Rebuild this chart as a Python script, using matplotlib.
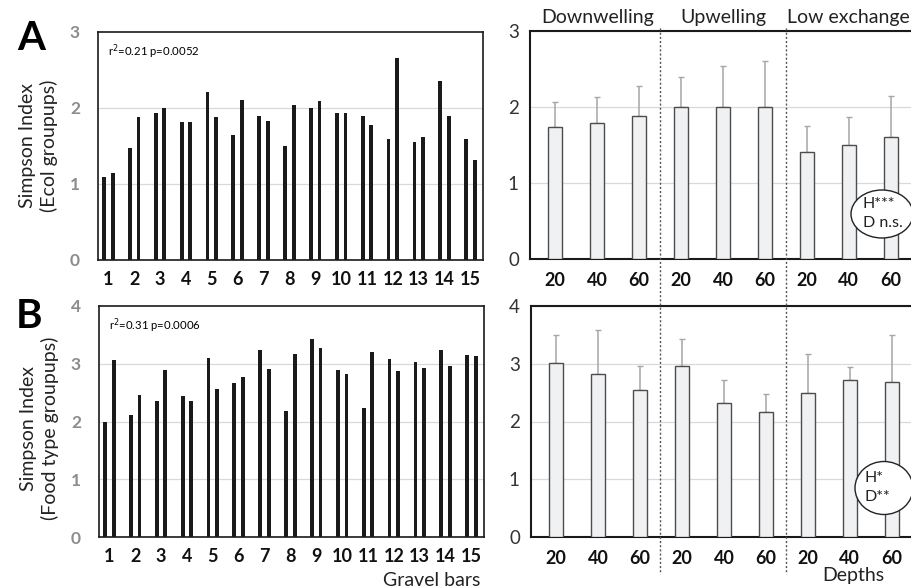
import matplotlib
matplotlib.use("Agg")
import matplotlib.pyplot as plt
import numpy as np
from matplotlib.patches import Ellipse
from matplotlib.transforms import blended_transform_factory

plt.rcParams['font.family'] = ['Lato', 'DejaVu Sans']

# ---------------- data ----------------
gravel_bars = [str(i) for i in range(1, 16)]
ecol_a = [1.09, 1.47, 1.94, 1.81, 2.21, 1.65, 1.90, 1.50, 2.00, 1.93, 1.89, 1.59, 1.55, 2.36, 1.59]
ecol_b = [1.15, 1.88, 2.00, 1.82, 1.88, 2.10, 1.83, 2.04, 2.09, 1.93, 1.78, 2.66, 1.62, 1.90, 1.32]
food_a = [1.99, 2.12, 2.36, 2.44, 3.10, 2.67, 3.23, 2.18, 3.42, 2.90, 2.24, 3.08, 3.03, 3.23, 3.15]
food_b = [3.06, 2.46, 2.90, 2.35, 2.56, 2.77, 2.91, 3.17, 3.27, 2.82, 3.20, 2.88, 2.93, 2.96, 3.14]

depths = ['20', '40', '60', '20', '40', '60', '20', '40', '60']
groups = ['Downwelling', 'Upwelling', 'Low exchange']
ecol_mean = [1.74, 1.79, 1.88, 2.00, 2.00, 2.00, 1.41, 1.50, 1.61]
ecol_err = [0.33, 0.34, 0.39, 0.39, 0.54, 0.61, 0.34, 0.37, 0.53]
food_mean = [3.01, 2.82, 2.54, 2.96, 2.32, 2.17, 2.50, 2.71, 2.69]
food_err = [0.48, 0.76, 0.42, 0.46, 0.40, 0.31, 0.67, 0.24, 0.81]

stats_a = "r$^2$=0.21 p=0.0052"
stats_b = "r$^2$=0.31 p=0.0006"

W, H = 911, 588
fig = plt.figure(figsize=(W / 100, H / 100), dpi=100)


def rect(x0, y_top, x1, y_bot):
    return [x0 / W, 1 - y_bot / H, (x1 - x0) / W, (y_bot - y_top) / H]


axLA = fig.add_axes(rect(98, 32, 483, 260))
axLB = fig.add_axes(rect(99, 306, 484, 537))
axRA = fig.add_axes(rect(530, 31, 916, 259))
axRB = fig.add_axes(rect(531, 306, 917, 537))

grid_col = '#d9d9d9'


def left_panel(ax, va, vb, ymax, ylabel, stats, letter, letter_xy, label_y):
    n = len(gravel_bars)
    xa = np.arange(n) * 3
    xb = xa + 1
    ax.bar(xa, va, width=0.44, color='#1a1a1a', zorder=3)
    ax.bar(xb, vb, width=0.44, color='#1a1a1a', zorder=3)
    ax.set_xlim(-0.7, 43.95)
    ax.set_ylim(0, ymax)
    ax.set_yticks(range(0, ymax + 1))
    ax.set_xticks(xa + 0.5)
    ax.set_xticklabels(gravel_bars, fontsize=13, fontweight='bold', color='#111111')
    for t in ax.get_yticklabels():
        t.set_fontweight('bold')
        t.set_color('#8c8c8c')
        t.set_fontsize(12.5)
    ax.tick_params(axis='both', length=0)
    ax.tick_params(axis='y', pad=13)
    ax.tick_params(axis='x', pad=8)
    for y in range(1, ymax):
        ax.axhline(y, color=grid_col, lw=0.9, zorder=1)
    for s in ax.spines.values():
        s.set_linewidth(1.2)
        s.set_color('#1a1a1a')
    ax.text(0.025, 0.955, stats, transform=ax.transAxes, fontsize=8.2, va='top', ha='left')
    ax.set_ylabel(ylabel, fontsize=14, linespacing=1.2, color='#222222')
    ax.yaxis.set_label_coords(-0.105, label_y)
    fig.text(letter_xy[0] / W, 1 - letter_xy[1] / H, letter, fontsize=29, fontweight='bold',
             ha='center', va='center')


left_panel(axLA, ecol_a, ecol_b, 3, "Simpson Index\n(Ecol groupups)", stats_a, 'A',
           (31, 38), 0.5)
left_panel(axLB, food_a, food_b, 4, "Simpson Index\n(Food type groupups)", stats_b, 'B',
           (29, 317), 0.47)


def right_panel(ax, means, errs, ymax):
    x = np.arange(len(depths))
    ax.bar(x, means, width=0.32, color='#f0f1f3', edgecolor='#4d4d4d', linewidth=1.0, zorder=3)
    ax.errorbar(x, means, yerr=[np.zeros(len(errs)), errs], fmt='none', ecolor='#a6a6a6',
                elinewidth=1.1, capsize=2, capthick=1.0, zorder=2)
    ax.set_xlim(-0.6, 8.6)
    ax.set_ylim(0, ymax)
    ax.set_yticks(range(0, ymax + 1))
    ax.set_xticks(x)
    ax.set_xticklabels(depths, fontsize=13, fontweight='bold', color='#111111')
    for t in ax.get_yticklabels():
        t.set_fontsize(13.5)
        t.set_color('#333333')
    ax.tick_params(axis='both', length=0)
    ax.tick_params(axis='y', pad=8)
    ax.tick_params(axis='x', pad=9)
    for y in range(1, ymax + 1):
        ax.axhline(y, color=grid_col, lw=0.9, zorder=1)
    ax.spines['right'].set_visible(False)
    for k in ['left', 'bottom', 'top']:
        ax.spines[k].set_linewidth(1.5)
        ax.spines[k].set_color('#1a1a1a')


right_panel(axRA, ecol_mean, ecol_err, 3)
right_panel(axRB, food_mean, food_err, 4)

# group headers and separators
tr = blended_transform_factory(axRA.transData, fig.transFigure)
for i, g in enumerate(groups):
    fig.text(3 * i + 1, 1 - 18 / H, g, transform=tr, fontsize=14, ha='center', va='center',
             color='#222222')
for xs in [2.5, 5.5]:
    fig.add_artist(plt.Line2D([xs, xs], [1 - 28 / H, 1 - 574 / H], transform=tr,
                              color='#555555', lw=1.0, linestyle=(0, (1.5, 1.5))))

# axis titles
fig.text(480 / W, 1 - 580 / H, 'Gravel bars', ha='right', va='center', fontsize=14,
         color='#222222')
fig.text(853 / W, 1 - 576 / H, 'Depths', ha='center', va='center', fontsize=14,
         color='#222222')

# significance ellipses
for (cx, cy, w, h, lines) in [(882, 214, 62, 48, ["H***", "D n.s."]),
                             (884, 488, 58, 53, ["H*", "D**"])]:
    e = Ellipse((cx / W, 1 - cy / H), w / W, h / H, transform=fig.transFigure,
                facecolor='white', edgecolor='#222222', lw=1.0, zorder=10)
    fig.add_artist(e)
    fig.text((cx - 19) / W, 1 - (cy - 10) / H, lines[0], fontsize=11.5, ha='left', va='center',
             color='#222222', zorder=11)
    fig.text((cx - 19) / W, 1 - (cy + 9) / H, lines[1], fontsize=11.5, ha='left', va='center',
             color='#222222', zorder=11)

fig.savefig('out.png', dpi=100)
